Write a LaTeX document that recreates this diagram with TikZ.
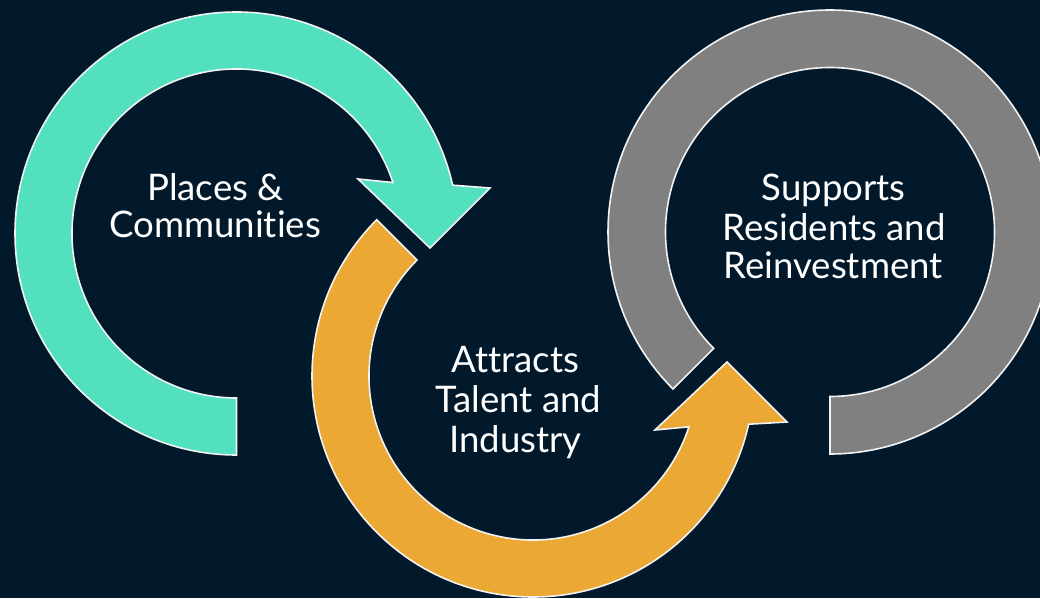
\documentclass[tikz,border=0pt]{standalone}
\usepackage{fontspec}
\setmainfont{Lato}[Ligatures=NoCommon]
\usetikzlibrary{calc}
\definecolor{bg}{HTML}{02192B}
\definecolor{tealc}{HTML}{52E0BF}
\definecolor{orangec}{HTML}{EBA834}
\definecolor{grayc}{HTML}{808080}
\definecolor{rim}{HTML}{F2F2F2}
\begin{document}
\begin{tikzpicture}[x=1pt,y=1pt,
  ring/.style={draw=rim, line width=1.6pt, line join=miter},
  lbl/.style={text=white, font=\fontsize{36.6}{40}\selectfont, anchor=base, inner sep=0pt}]
\fill[bg] (0,0) rectangle (1040,598);
\useasboundingbox (0,0) rectangle (1040,598);
\coordinate (ct) at (236.5,364.5);
\coordinate (co) at (533,222);
\coordinate (cg) at (830,366);
% teal arrow
\draw[ring, fill=tealc] ($(ct)+(270:164.5)$) -- ($(ct)+(270:221.5)$)
  arc[start angle=270, end angle=12.6, radius=221.5]
  -- ($(ct)+(253.5,45.5)$) -- ($(ct)+(193.5,-14.5)$) -- ($(ct)+(121.5,54.5)$)
  -- ($(ct)+(18.05:164.5)$) arc[start angle=18.05, end angle=270, radius=164.5] -- cycle;
% orange arrow
\draw[ring, fill=orangec] ($(co)+(135:221)$)
  arc[start angle=135, end angle=347.4, radius=221]
  -- ($(co)+(254,-46)$) -- ($(co)+(194,14)$) -- ($(co)+(122,-54)$)
  -- ($(co)+(341.95:164)$) arc[start angle=341.95, end angle=135, radius=164] -- cycle;
% gray ring
\draw[ring, fill=grayc] ($(cg)+(225:222)$)
  arc[start angle=225, end angle=-90, radius=222]
  -- ($(cg)+(270:164.5)$) arc[start angle=-90, end angle=225, radius=164.5] -- cycle;
% labels
\node[lbl] (p1) at (215.5,398) {Places \&};
\node[lbl] (p2) at (215,361) {Communities};
\node[lbl] (a1) at (515.5,226) {Attracts};
\node[lbl] (a2) at (518.5,186) {Talent and};
\node[lbl] (a3) at (515.5,146) {Industry};
\node[lbl] (s1) at (833.5,398) {Supports};
\node[lbl] (s2) at (834,358) {Residents and};
\node[lbl] (s3) at (833,320) {Reinvestment};
\end{tikzpicture}
\end{document}
